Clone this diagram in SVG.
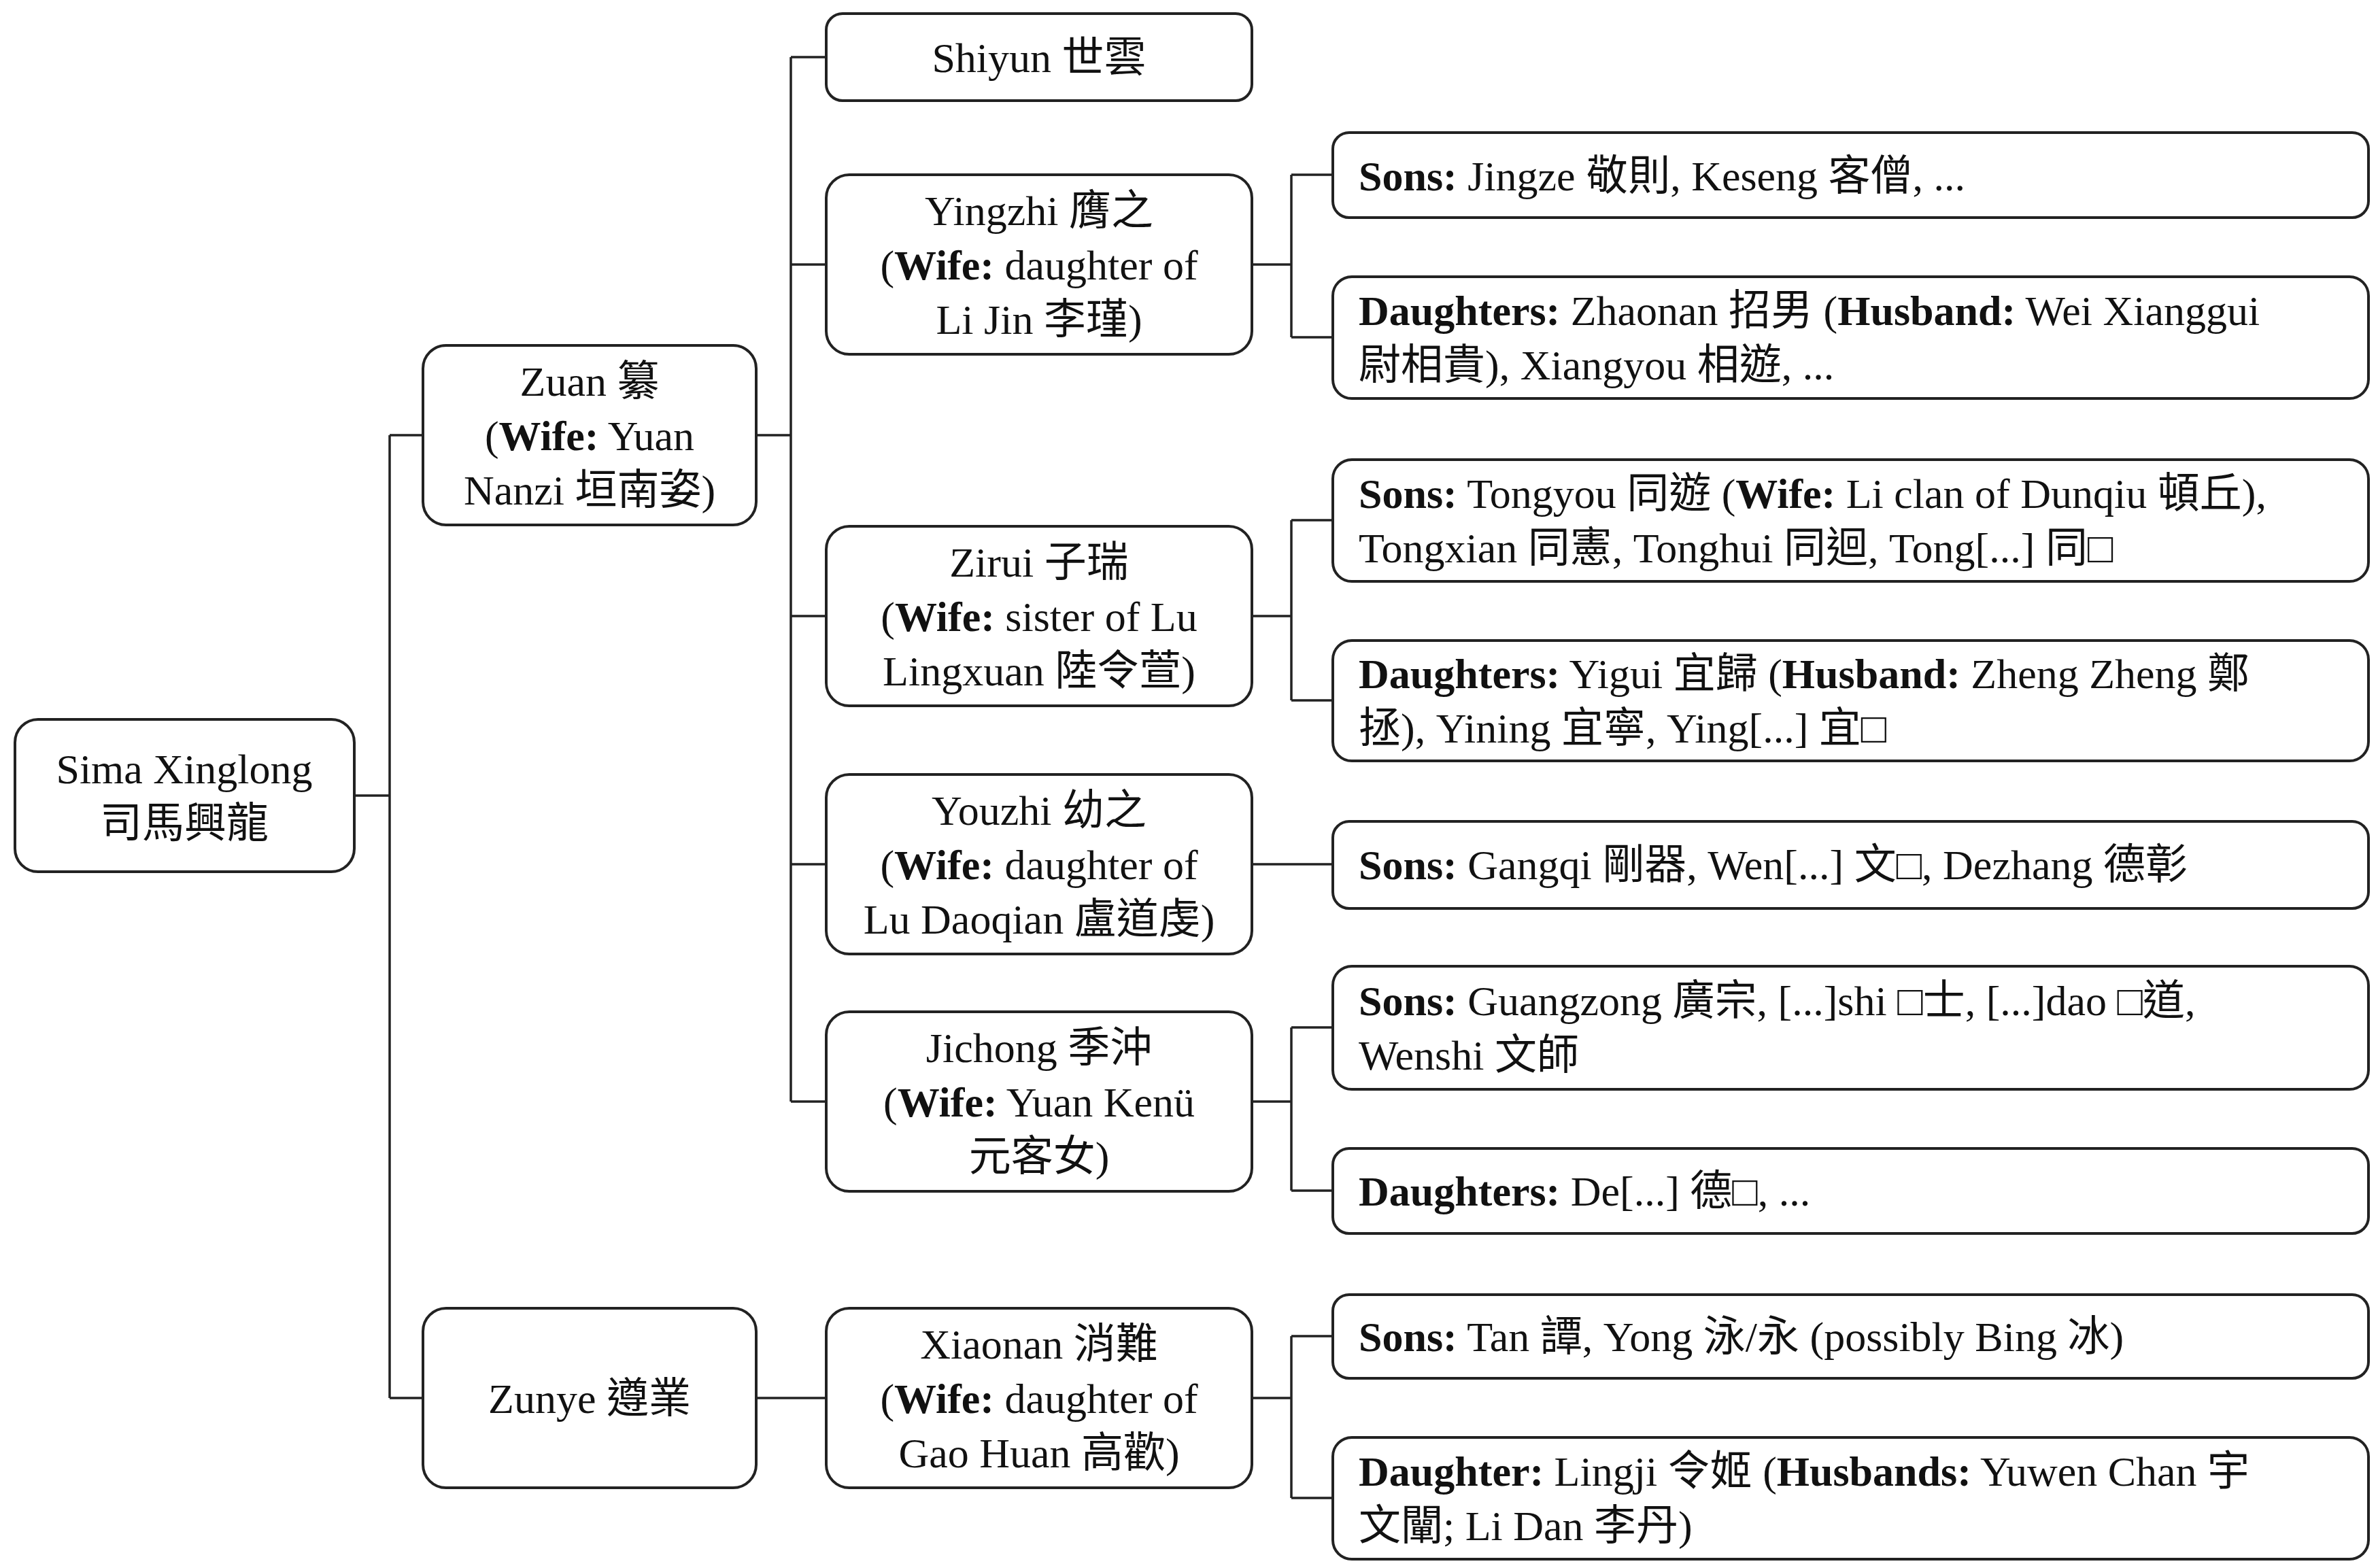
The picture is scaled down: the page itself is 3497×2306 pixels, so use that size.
<svg xmlns="http://www.w3.org/2000/svg" width="3497" height="2306" viewBox="0 0 3497 2306">
<style>
rect{fill:#fff;stroke:#222;stroke-width:4}
text{font-family:"Liberation Serif","Noto Sans CJK TC",serif;font-size:62px;fill:#111}
.c{text-anchor:middle}
.b{font-weight:bold}
#conn path{fill:none;stroke:#222;stroke-width:3.5}
</style>
<rect width="3497" height="2306" style="fill:#fff;stroke:none"/>
<g id="conn">
<path d="M521 1170H573M573 640V2056M573 640H622M573 2056H622"/>
<path d="M1112 640H1163M1163 84V1620M1163 84H1215M1163 389H1215M1163 906H1215M1163 1271H1215M1163 1620H1215"/>
<path d="M1112 2056H1215"/>
<path d="M1841 389H1899M1899 257V496M1899 257H1960M1899 496H1960"/>
<path d="M1841 906H1899M1899 765V1030M1899 765H1960M1899 1030H1960"/>
<path d="M1841 1271H1960"/>
<path d="M1841 1620H1899M1899 1511V1751M1899 1511H1960M1899 1751H1960"/>
<path d="M1841 2056H1899M1899 1965V2203M1899 1965H1960M1899 2203H1960"/>
</g>
<g id="root"><rect x="22" y="1058" width="499" height="224" rx="34"/><text class="c" x="271" y="1152">Sima Xinglong</text><text class="c" x="271" y="1232">司馬興龍</text></g>
<g id="zuan"><rect x="622" y="508" width="490" height="264" rx="34"/><text class="c" x="867" y="582">Zuan 纂</text><text class="c" x="867" y="662">(<tspan class="b">Wife:</tspan> Yuan</text><text class="c" x="867" y="742">Nanzi 垣南姿)</text></g>
<g id="zunye"><rect x="622" y="1924" width="490" height="264" rx="34"/><text class="c" x="867" y="2078">Zunye 遵業</text></g>
<g id="shiyun"><rect x="1215" y="20" width="626" height="128" rx="24"/><text class="c" x="1528" y="106">Shiyun 世雲</text></g>
<g id="yingzhi"><rect x="1215" y="257" width="626" height="264" rx="34"/><text class="c" x="1528" y="331">Yingzhi 膺之</text><text class="c" x="1528" y="411">(<tspan class="b">Wife:</tspan> daughter of</text><text class="c" x="1528" y="491">Li Jin 李瑾)</text></g>
<g id="zirui"><rect x="1215" y="774" width="626" height="264" rx="34"/><text class="c" x="1528" y="848">Zirui 子瑞</text><text class="c" x="1528" y="928">(<tspan class="b">Wife:</tspan> sister of Lu</text><text class="c" x="1528" y="1008">Lingxuan 陸令萱)</text></g>
<g id="youzhi"><rect x="1215" y="1139" width="626" height="264" rx="34"/><text class="c" x="1528" y="1213">Youzhi 幼之</text><text class="c" x="1528" y="1293">(<tspan class="b">Wife:</tspan> daughter of</text><text class="c" x="1528" y="1373">Lu Daoqian 盧道虔)</text></g>
<g id="jichong"><rect x="1215" y="1488" width="626" height="264" rx="34"/><text class="c" x="1528" y="1562">Jichong 季沖</text><text class="c" x="1528" y="1642">(<tspan class="b">Wife:</tspan> Yuan Kenü</text><text class="c" x="1528" y="1722">元客女)</text></g>
<g id="xiaonan"><rect x="1215" y="1924" width="626" height="264" rx="34"/><text class="c" x="1528" y="1998">Xiaonan 消難</text><text class="c" x="1528" y="2078">(<tspan class="b">Wife:</tspan> daughter of</text><text class="c" x="1528" y="2158">Gao Huan 高歡)</text></g>
<g id="s1"><rect x="1960" y="195" width="1523" height="125" rx="24"/><text x="1998" y="280"><tspan class="b">Sons:</tspan> Jingze 敬則, Keseng 客僧, ...</text></g>
<g id="d1"><rect x="1960" y="407" width="1523" height="179" rx="28"/><text x="1998" y="478"><tspan class="b">Daughters:</tspan> Zhaonan 招男 (<tspan class="b">Husband:</tspan> Wei Xianggui</text><text x="1998" y="558">尉相貴), Xiangyou 相遊, ...</text></g>
<g id="s2"><rect x="1960" y="676" width="1523" height="179" rx="28"/><text x="1998" y="747"><tspan class="b">Sons:</tspan> Tongyou 同遊 (<tspan class="b">Wife:</tspan> Li clan of Dunqiu 頓丘),</text><text x="1998" y="827">Tongxian 同憲, Tonghui 同迴, Tong[...] 同□</text></g>
<g id="d2"><rect x="1960" y="942" width="1523" height="177" rx="28"/><text x="1998" y="1012"><tspan class="b">Daughters:</tspan> Yigui 宜歸 (<tspan class="b">Husband:</tspan> Zheng Zheng 鄭</text><text x="1998" y="1092">拯), Yining 宜寧, Ying[...] 宜□</text></g>
<g id="s3"><rect x="1960" y="1208" width="1523" height="128" rx="24"/><text x="1998" y="1293"><tspan class="b">Sons:</tspan> Gangqi 剛器, Wen[...] 文□, Dezhang 德彰</text></g>
<g id="s4"><rect x="1960" y="1421" width="1523" height="181" rx="28"/><text x="1998" y="1493"><tspan class="b">Sons:</tspan> Guangzong 廣宗, [...]shi □士, [...]dao □道,</text><text x="1998" y="1573">Wenshi 文師</text></g>
<g id="d4"><rect x="1960" y="1689" width="1523" height="125" rx="24"/><text x="1998" y="1773"><tspan class="b">Daughters:</tspan> De[...] 德□, ...</text></g>
<g id="s5"><rect x="1960" y="1904" width="1523" height="123" rx="24"/><text x="1998" y="1987"><tspan class="b">Sons:</tspan> Tan 譚, Yong 泳/永 (possibly Bing 冰)</text></g>
<g id="d5"><rect x="1960" y="2114" width="1523" height="179" rx="28"/><text x="1998" y="2185"><tspan class="b">Daughter:</tspan> Lingji 令姬 (<tspan class="b">Husbands:</tspan> Yuwen Chan 宇</text><text x="1998" y="2265">文闡; Li Dan 李丹)</text></g>
</svg>
